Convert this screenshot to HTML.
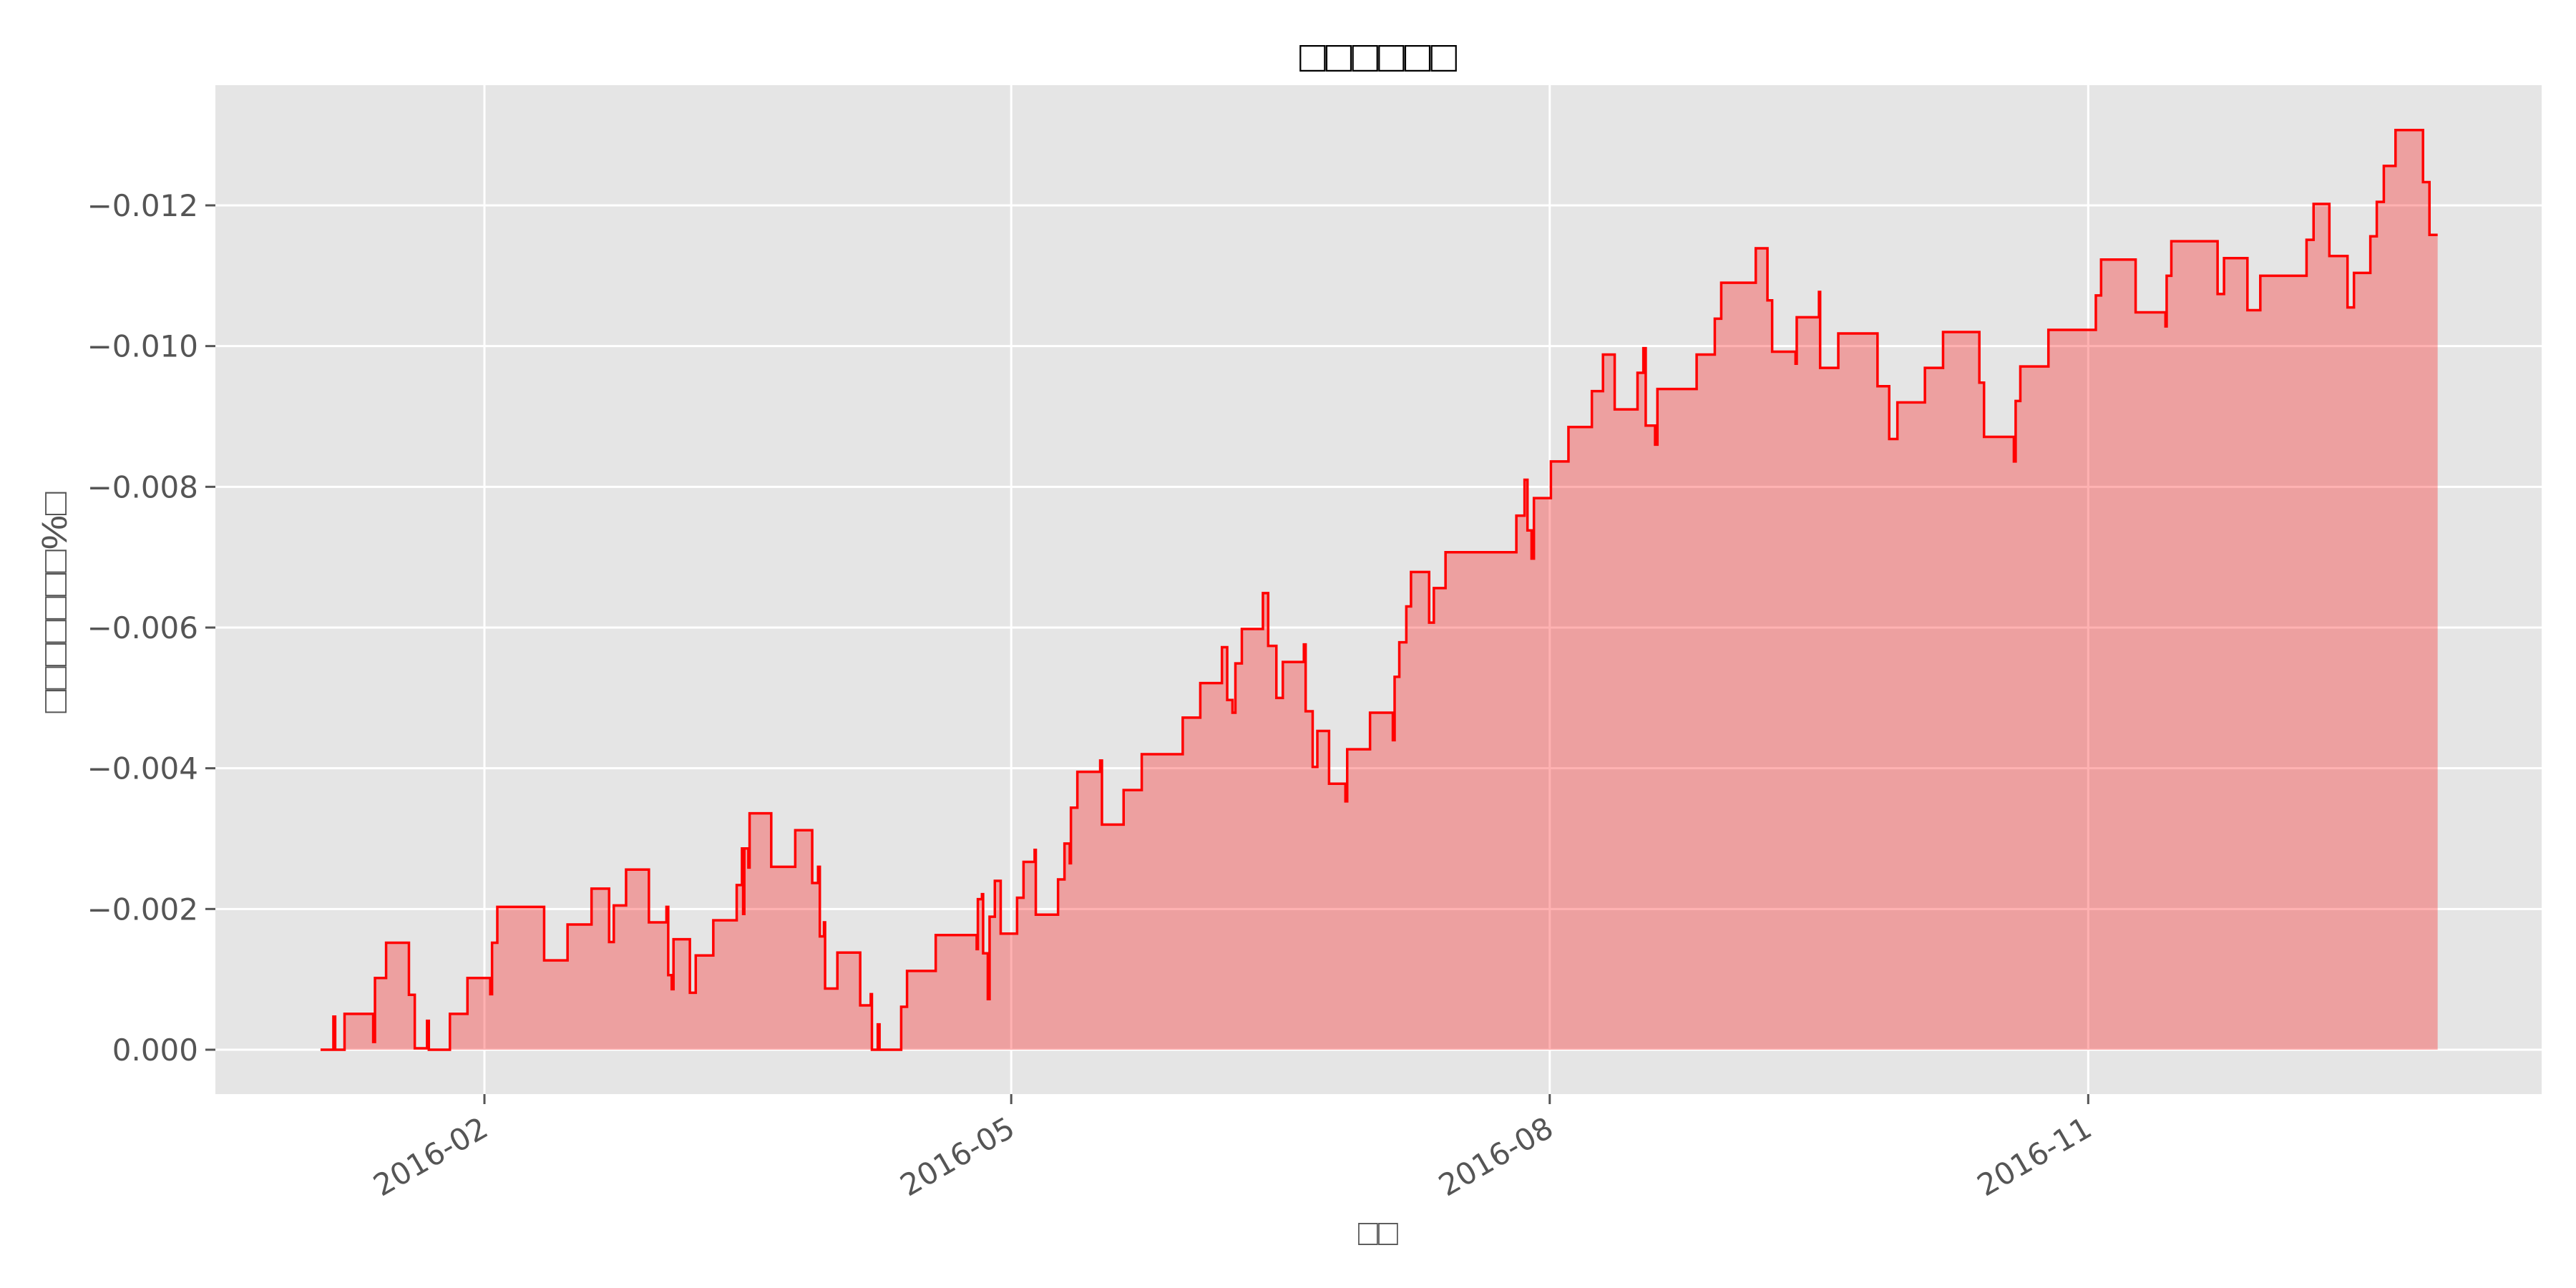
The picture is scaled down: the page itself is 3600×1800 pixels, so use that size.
<!DOCTYPE html>
<html><head><meta charset="utf-8"><style>
html,body{margin:0;padding:0;background:#fff;}
svg{display:block;}
text{font-family:"Liberation Sans","DejaVu Sans",sans-serif;}
.tick{font-family:"DejaVu Sans","Liberation Sans",sans-serif;}
</style></head><body>
<svg id="chart" width="3600" height="1800" viewBox="0 0 3600 1800" xmlns="http://www.w3.org/2000/svg">
<rect x="301" y="119" width="3251" height="1410" fill="#e5e5e5"/>
<g id="grid"></g>
<g id="series"></g>
<g id="axes"></g>
<text x="1926" y="100" font-size="62" text-anchor="middle" textLength="220" lengthAdjust="spacingAndGlyphs" fill="#000">□□□□□□</text>
<text transform="translate(93,842) rotate(-90)" font-size="50" text-anchor="middle" textLength="309" lengthAdjust="spacingAndGlyphs" fill="#555">□□□□□□□%□</text>
<text x="1926" y="1740" font-size="52" text-anchor="middle" textLength="56" lengthAdjust="spacingAndGlyphs" fill="#555">□□</text>
</svg>
<script>
const days = [3,5.2,5.5,7.1,12,12.3,14.2,18.1,19.1,21.2,21.5,25.1,28.1,32,32.3,33.2,41.2,45.2,49.3,52.3,53.1,55.2,59.1,62.1,62.4,63,63.3,66.1,67.1,70.1,74.1,75,75.2,75.4,76.1,76.3,80,84.1,87,88,88.3,89,89.2,91.3,95.2,97,97.2,98.2,98.5,102.2,103.2,108.1,115.1,115.3,116,116.2,117,117.3,118.2,119.2,122,123.1,125,125.2,129,130.1,131,131.2,132.3,136.2,136.5,140.2,143.3,150.3,153.3,157,157.9,158.8,159.3,160.4,164,164.9,166.3,167.4,171,171.3,172.5,173.3,175.3,178.1,178.4,182.3,186.2,186.5,187.3,188.5,189.3,192.4,193.2,195.2,207.3,208.7,209.2,209.9,210.3,213.2,216.2,220.2,222.1,224.1,228,229,229.4,231,231.4,238.1,241.2,242.3,248.2,250.2,251,255,255.2,259,259.2,262.3,269,271,272.4,277.1,280.2,286.4,287.2,292.3,292.6,293.4,298.2,306.3,307.2,313.1,318.2,318.4,319.2,327.1,328.2,332.2,334.4,342.3,343.5,346.2,349.3,350.4,353.2,354.3,355.5,357.5,362.2,363.3,364.7];
const values = [0,-0.00047,0,-0.00051,-0.00011,-0.00102,-0.00152,-0.00078,-0.00002,-0.00041,0,-0.00051,-0.00102,-0.00079,-0.00152,-0.00203,-0.00127,-0.00178,-0.00229,-0.00153,-0.00205,-0.00256,-0.00181,-0.00203,-0.00106,-0.00086,-0.00157,-0.00081,-0.00134,-0.00184,-0.00234,-0.00286,-0.00193,-0.00286,-0.00259,-0.00336,-0.0026,-0.00312,-0.00237,-0.0026,-0.00161,-0.00181,-0.00087,-0.00138,-0.00063,-0.00079,0,-0.00036,0,-0.00061,-0.00112,-0.00163,-0.00143,-0.00214,-0.00221,-0.00137,-0.00072,-0.00189,-0.0024,-0.00165,-0.00216,-0.00267,-0.00284,-0.00192,-0.00242,-0.00293,-0.00265,-0.00344,-0.00395,-0.00411,-0.0032,-0.00369,-0.0042,-0.00472,-0.00521,-0.00572,-0.00497,-0.00479,-0.00549,-0.00598,-0.00649,-0.00574,-0.005,-0.00551,-0.00576,-0.00481,-0.00402,-0.00453,-0.00378,-0.00353,-0.00427,-0.00479,-0.0044,-0.0053,-0.00579,-0.0063,-0.00679,-0.00607,-0.00656,-0.00707,-0.00759,-0.0081,-0.00738,-0.00698,-0.00784,-0.00836,-0.00885,-0.00936,-0.00988,-0.0091,-0.00962,-0.00997,-0.00887,-0.0086,-0.00939,-0.00988,-0.01039,-0.0109,-0.01139,-0.01065,-0.00992,-0.00975,-0.01041,-0.01077,-0.00969,-0.01018,-0.00943,-0.00868,-0.0092,-0.00969,-0.0102,-0.00948,-0.00871,-0.00836,-0.00922,-0.00971,-0.01023,-0.01072,-0.01123,-0.01048,-0.01028,-0.011,-0.01149,-0.01074,-0.01125,-0.01051,-0.011,-0.01151,-0.01202,-0.01128,-0.01055,-0.01104,-0.01156,-0.01205,-0.01256,-0.01307,-0.01233,-0.01158,-0.01158];
const yTicks = [0,-0.002,-0.004,-0.006,-0.008,-0.010,-0.012];
const yTickLabels = ["0.000","\u22120.002","\u22120.004","\u22120.006","\u22120.008","\u22120.010","\u22120.012"];
const xTickDays = [31,121,213,305];
const xTickLabels = ["2016-02","2016-05","2016-08","2016-11"];

const NS = "http://www.w3.org/2000/svg";
const PL = 301, PR = 3552, PT = 119, PB = 1529;
function xScale(d){ return 677 + (d - 31) * 8.18; }
function yScale(v){ return 1467 + v / 0.012 * 1180; }
function mk(tag, attrs, parent){ const e = document.createElementNS(NS, tag); for (const k in attrs) e.setAttribute(k, attrs[k]); parent.appendChild(e); return e; }

const grid = document.getElementById('grid');
const axes = document.getElementById('axes');
yTicks.forEach((v, i) => {
  const y = yScale(v);
  const gl = mk('line', {x1: PL, x2: PR, y1: y, y2: y, stroke: '#fff', 'stroke-width': 3}, grid);
  
  
  const tk = mk('line', {x1: PL - 14, x2: PL, y1: y, y2: y, stroke: '#555', 'stroke-width': 3}, axes);
  
  
  const t = mk('text', {class: 'tick', x: PL - 24, y: y + 15, 'font-size': 42, 'text-anchor': 'end', fill: '#555'}, axes);
  t.textContent = yTickLabels[i];
  
  
});
xTickDays.forEach((d, i) => {
  const x = xScale(d);
  const gl = mk('line', {x1: x, x2: x, y1: PT, y2: PB, stroke: '#fff', 'stroke-width': 3}, grid);
  
  
  const tk = mk('line', {x1: x, x2: x, y1: PB, y2: PB + 14, stroke: '#555', 'stroke-width': 3}, axes);
  
  
  const t = mk('text', {class: 'tick', transform: `translate(${x + 8},${PB + 56}) rotate(-30)`, 'font-size': 42, 'text-anchor': 'end', fill: '#555'}, axes);
  t.textContent = xTickLabels[i];
  
  
});

const series = document.getElementById('series');
let line = '';
for (let i = 0; i < days.length; i++) {
  const x = xScale(days[i]), y = yScale(values[i]);
  if (i === 0) line += `M${x},${y}`;
  else line += `H${x}V${y}`;
}
const x0 = xScale(days[0]), y0 = yScale(0);
const area = mk('path', {d: `M${x0},${y0}` + line.replace(/^M[^H]*/, `V${yScale(values[0])}`) + `V${y0}Z`, fill: 'rgba(255,0,0,0.3)', stroke: 'none'}, series);


const ln = mk('path', {d: line, fill: 'none', stroke: '#ff0000', 'stroke-width': 3.5, 'stroke-linejoin': 'miter'}, series);


</script>
</body></html>
